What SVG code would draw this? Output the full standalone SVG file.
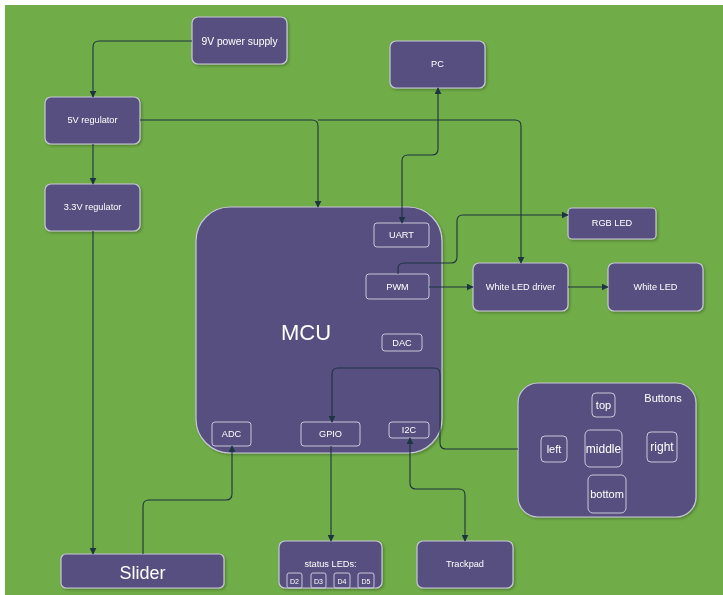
<svg xmlns="http://www.w3.org/2000/svg" width="723" height="595" viewBox="0 0 723 595">
<style>
.n{fill:#57507f;stroke:#c9c6dc;stroke-width:1.2}
.s{fill:none;stroke:#c9c6dc;stroke-width:1}
.t{font-family:"Liberation Sans",Arial,sans-serif;fill:#ffffff;text-anchor:middle;dominant-baseline:central}
.c{fill:none;stroke:#1d3443;stroke-width:1.1}
</style>
<defs>
<filter id="sh" x="-10%" y="-10%" width="130%" height="130%"><feDropShadow dx="1.5" dy="1.5" stdDeviation="1" flood-color="#000" flood-opacity="0.25"/></filter>
<marker id="a" viewBox="0 0 10 10" refX="9" refY="5" markerWidth="7" markerHeight="7" orient="auto-start-reverse" markerUnits="userSpaceOnUse"><path d="M0,0L10,5L0,10z" fill="#1d3443"/></marker>
</defs>
<rect x="0" y="0" width="723" height="595" fill="#ffffff"/>
<rect x="5" y="5" width="718" height="590" fill="#70ac47"/>

<g id="n9v" filter="url(#sh)"><rect class="n" x="192" y="17" width="95" height="47" rx="6"/><text class="t" x="239.5" y="41" font-size="10.3">9V power supply</text></g>
<g id="n5v" filter="url(#sh)"><rect class="n" x="45" y="97" width="95" height="47" rx="6"/><text class="t" x="92.5" y="120" font-size="9.2">5V regulator</text></g>
<g id="n33v" filter="url(#sh)"><rect class="n" x="45" y="184" width="95" height="47" rx="6"/><text class="t" x="92.5" y="207" font-size="9.2">3.3V regulator</text></g>
<g id="pc" filter="url(#sh)"><rect class="n" x="390" y="41" width="95" height="47" rx="6"/><text class="t" x="437.5" y="64" font-size="9.2">PC</text></g>
<g id="rgb" filter="url(#sh)"><rect class="n" x="568" y="208" width="88" height="31" rx="4"/><text class="t" x="612" y="223" font-size="9.2">RGB LED</text></g>
<g id="wdrv" filter="url(#sh)"><rect class="n" x="473" y="263" width="95" height="48" rx="6"/><text class="t" x="520.5" y="287" font-size="9.2">White LED driver</text></g>
<g id="wled" filter="url(#sh)"><rect class="n" x="608" y="263" width="95" height="48" rx="6"/><text class="t" x="655.5" y="287" font-size="9.2">White LED</text></g>

<g id="mcu" filter="url(#sh)">
<rect class="n" x="196" y="207" width="246" height="246" rx="34"/>
<text class="t" x="306" y="332" font-size="22">MCU</text>
<rect class="s" x="374" y="223" width="55" height="24" rx="3"/><text class="t" x="401.5" y="235" font-size="9.2">UART</text>
<rect class="s" x="366" y="274" width="63" height="25" rx="3"/><text class="t" x="397.5" y="286.5" font-size="9.2">PWM</text>
<rect class="s" x="382" y="334" width="40" height="17" rx="3"/><text class="t" x="402" y="342.5" font-size="9.2">DAC</text>
<rect class="s" x="212" y="422" width="39" height="24" rx="3"/><text class="t" x="231.5" y="434" font-size="9.2">ADC</text>
<rect class="s" x="301" y="422" width="59" height="24" rx="3"/><text class="t" x="330.5" y="434" font-size="9.2">GPIO</text>
<rect class="s" x="389" y="422" width="40" height="16" rx="3"/><text class="t" x="409" y="430" font-size="9.2">I2C</text>
</g>

<g id="buttons" filter="url(#sh)">
<rect class="n" x="518" y="383" width="178" height="134" rx="20"/>
<text class="t" x="663" y="398" font-size="11">Buttons</text>
<rect class="s" x="592" y="393" width="23" height="24" rx="4"/><text class="t" x="603.5" y="405" font-size="11">top</text>
<rect class="s" x="541" y="436" width="26" height="26" rx="4"/><text class="t" x="554" y="449" font-size="11">left</text>
<rect class="s" x="585" y="430" width="37" height="37" rx="5"/><text class="t" x="603.5" y="449" font-size="12">middle</text>
<rect class="s" x="647" y="432" width="30" height="30" rx="4"/><text class="t" x="662" y="447" font-size="12">right</text>
<rect class="s" x="588" y="475" width="38" height="38" rx="5"/><text class="t" x="607" y="494" font-size="11">bottom</text>
</g>

<g id="slider" filter="url(#sh)"><rect class="n" x="61" y="554" width="163" height="34" rx="5"/><text class="t" x="142.5" y="573" font-size="18">Slider</text></g>

<g id="status" filter="url(#sh)">
<rect class="n" x="279" y="541" width="103" height="47" rx="6"/>
<text class="t" x="330.5" y="564" font-size="9.2">status LEDs:</text>
<rect class="s" x="287" y="573" width="15" height="15" rx="2"/><text class="t" x="294.5" y="581" font-size="7">D2</text>
<rect class="s" x="311" y="573" width="15" height="15" rx="2"/><text class="t" x="318.5" y="581" font-size="7">D3</text>
<rect class="s" x="334" y="573" width="16" height="15" rx="2"/><text class="t" x="342" y="581" font-size="7">D4</text>
<rect class="s" x="358" y="573" width="16" height="15" rx="2"/><text class="t" x="366" y="581" font-size="7">D5</text>
</g>

<g id="trackpad" filter="url(#sh)"><rect class="n" x="417" y="541" width="96" height="47" rx="6"/><text class="t" x="465" y="564" font-size="9.2">Trackpad</text></g>

<g id="connectors">
<path class="c" d="M192,41H99Q93,41 93,47V97" marker-end="url(#a)"/>
<path class="c" d="M93,144V184" marker-end="url(#a)"/>
<path class="c" d="M140,120H312Q318,120 318,126V207" marker-end="url(#a)"/>
<path class="c" d="M318,120H515Q521,120 521,126V263" marker-end="url(#a)"/>
<path class="c" d="M438,88V149Q438,155 432,155H408Q402,155 402,161V223" marker-start="url(#a)" marker-end="url(#a)"/>
<path class="c" d="M398,274V269Q398,263 404,263H451Q457,263 457,257V221Q457,215 463,215H568" marker-end="url(#a)"/>
<path class="c" d="M429,287H473" marker-end="url(#a)"/>
<path class="c" d="M568,287H608" marker-end="url(#a)"/>
<path class="c" d="M518,449H446Q440,449 440,443V374Q440,368 434,368H338Q332,368 332,374V422" marker-end="url(#a)"/>
<path class="c" d="M331,446V541" marker-end="url(#a)"/>
<path class="c" d="M93,231V554" marker-end="url(#a)"/>
<path class="c" d="M143,554V506Q143,500 149,500H226Q232,500 232,494V446" marker-end="url(#a)"/>
<path class="c" d="M410,438V483Q410,489 416,489H459Q465,489 465,495V541" marker-start="url(#a)" marker-end="url(#a)"/>
</g>
</svg>
